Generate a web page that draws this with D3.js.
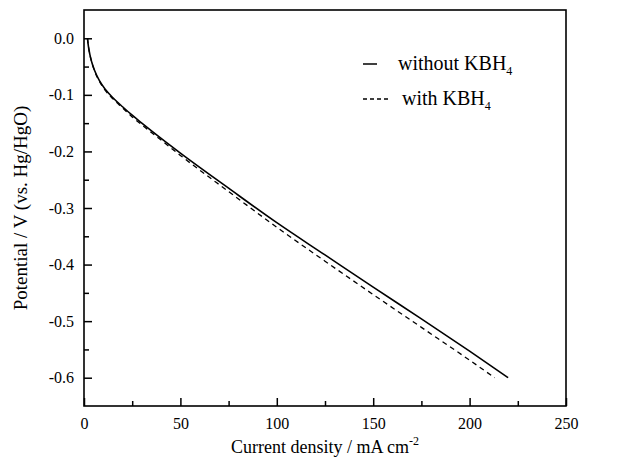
<!DOCTYPE html>
<html>
<head>
<meta charset="utf-8">
<script src="https://cdn.jsdelivr.net/npm/d3@7"></script>
<style>
  body { margin: 0; background: #fff; }
  svg text { font-family: "Liberation Serif", "Times New Roman", serif; fill: #000; }
</style>
</head>
<body>
<div class="chart"></div>
<script>
// current density (mA cm-2) and potential (V vs Hg/HgO)
var withoutX = [1.8, 2.2, 3, 4, 5.5, 8, 11, 15, 20, 25, 30, 40, 50, 75, 100, 125, 150, 175, 200, 220];
var withoutY = [0, -0.012, -0.028, -0.042, -0.057, -0.075, -0.09, -0.105, -0.121, -0.136, -0.15, -0.177, -0.203, -0.265, -0.326, -0.383, -0.44, -0.496, -0.553, -0.6];
var withX = [1.8, 2.2, 3, 4, 5.5, 8, 11, 15, 20, 25, 30, 40, 50, 75, 100, 125, 150, 175, 200, 213];
var withY = [0, -0.012, -0.028, -0.042, -0.058, -0.076, -0.092, -0.107, -0.123, -0.139, -0.153, -0.18, -0.207, -0.271, -0.334, -0.394, -0.453, -0.511, -0.569, -0.6];

var xTicks = [0, 50, 100, 150, 200, 250];
var yTicks = [0, -0.1, -0.2, -0.3, -0.4, -0.5, -0.6];

var width = 639, height = 465;
var plotLeft = 84, plotTop = 10, plotRight = 566, plotBottom = 406;

var svg = d3.select('.chart').append('svg')
    .attr('width', width)
    .attr('height', height);

var xScale = d3.scaleLinear().domain([0, 250]).range([plotLeft, plotRight]);
var yScale = d3.scaleLinear().domain([-0.65, 0.05]).range([plotBottom, plotTop]);

/* frame */
svg.append('rect')
    .attr('x', plotLeft).attr('y', plotTop)
    .attr('width', plotRight - plotLeft).attr('height', plotBottom - plotTop)
    .attr('fill', 'none').attr('stroke', '#000').attr('stroke-width', 1.6);

/* axes: major + minor ticks pointing inward */
var xAxis = d3.axisBottom(xScale).tickValues(xTicks).tickSize(-8).tickPadding(12).tickFormat(d3.format('d'));
var xMinor = d3.axisBottom(xScale).tickValues([25, 75, 125, 175, 225]).tickSize(-5).tickFormat('');
var yAxis = d3.axisLeft(yScale).tickValues(yTicks).tickSize(-8).tickPadding(10)
    .tickFormat(d => d3.format('.1f')(d).replace('\u2212', '-'));
var yMinor = d3.axisLeft(yScale).tickValues([-0.05, -0.15, -0.25, -0.35, -0.45, -0.55]).tickSize(-5).tickFormat('');

function style(g) {
    g.select('.domain').remove();
    g.selectAll('.tick line').attr('stroke', '#000').attr('stroke-width', 1.5);
    g.selectAll('.tick text').style('font-size', '16px');
}

svg.append('g').attr('transform', `translate(0, ${plotBottom})`).call(xAxis).call(style);
svg.append('g').attr('transform', `translate(0, ${plotBottom})`).call(xMinor).call(style);
svg.append('g').attr('transform', `translate(${plotLeft}, 0)`).call(yAxis).call(style);
svg.append('g').attr('transform', `translate(${plotLeft}, 0)`).call(yMinor).call(style);

/* axis titles */
var xt = svg.append('text')
    .attr('x', 325).attr('y', 453)
    .attr('text-anchor', 'middle')
    .style('font-size', '18px');
xt.append('tspan').text('Current density / mA cm');
xt.append('tspan').attr('dy', -8).style('font-size', '12px').text('-2');

svg.append('text')
    .attr('transform', 'translate(27, 208) rotate(-90)')
    .attr('text-anchor', 'middle')
    .style('font-size', '19px')
    .text('Potential / V (vs. Hg/HgO)');

/* lines */
var line = d3.line()
    .x(d => xScale(d[0]))
    .y(d => yScale(d[1]))
    .curve(d3.curveMonotoneX);

svg.append('path')
    .datum(d3.zip(withoutX, withoutY))
    .attr('d', line)
    .attr('fill', 'none').attr('stroke', '#000').attr('stroke-width', 1.6);

svg.append('path')
    .datum(d3.zip(withX, withY))
    .attr('d', line)
    .attr('fill', 'none').attr('stroke', '#000').attr('stroke-width', 1.3)
    .attr('stroke-dasharray', '5,4');

/* legend */
var legend = [
    {label: 'without KBH', dash: null, y: 64, x1: 363, x2: 377, tx: 398},
    {label: 'with KBH', dash: '4,3', y: 99, x1: 363, x2: 390, tx: 402}
];
legend.forEach(function(d) {
    svg.append('line')
        .attr('x1', d.x1).attr('x2', d.x2)
        .attr('y1', d.y).attr('y2', d.y)
        .attr('stroke', '#000').attr('stroke-width', 1.5)
        .attr('stroke-dasharray', d.dash);
    var t = svg.append('text')
        .attr('x', d.tx).attr('y', d.y + 6)
        .style('font-size', '20px');
    t.append('tspan').text(d.label);
    t.append('tspan').attr('dy', 5).style('font-size', '12px').text('4');
});
</script>
</body>
</html>
